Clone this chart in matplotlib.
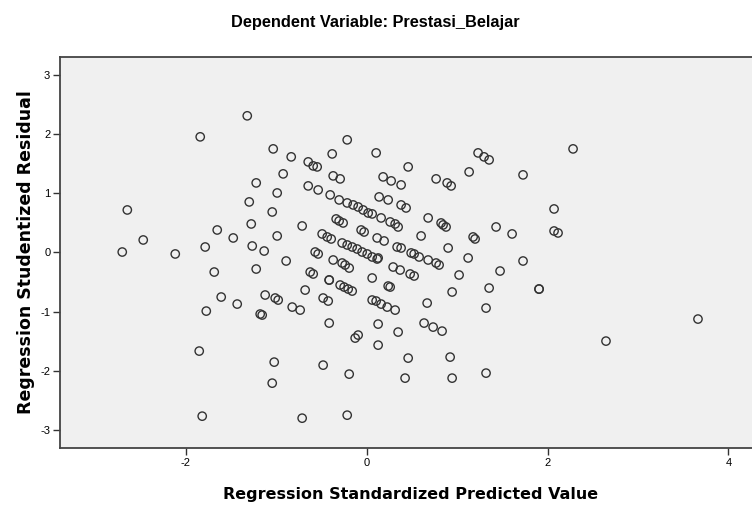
"""
SPSS-style residual scatterplot - Prestasi_Belajar
"""

import matplotlib
matplotlib.use('Agg')
import matplotlib.pyplot as plt

plt.rcParams['font.family'] = ['Liberation Sans', 'DejaVu Sans']
plt.rcParams['axes.unicode_minus'] = False

# Regression Standardized Predicted Value
pred = [
    -1.320, -1.840, -1.033, -0.834, -0.215, -0.381, -0.646, -0.591, -0.547, 0.105,
    -0.923, -0.370, -0.293, -1.221, -0.646, -0.536, -0.989, -0.403, -0.304, 2.282,
    1.232, 1.298, 1.354, 0.459, 0.182, 0.271, 0.381, 0.768, 0.890, 0.934,
    1.133, 1.729, 0.138, 0.238, -0.215, -0.149, -0.094, -0.039, 0.017, 0.061,
    -2.646, -1.298, -1.044, -0.337, -0.304, -0.260, -1.276, -0.713, -1.652, -0.061,
    -0.028, -1.475, -0.989, -2.470, -0.492, -0.436, -0.392, -0.271, -0.215, -0.160,
    -0.105, -0.050, 0.006, 0.061, 0.116, -1.785, -1.265, -1.133, -2.702, -2.116,
    -0.569, -0.536, 0.116, 0.381, 0.436, 2.072, 0.160, 0.260, 0.315, 0.348,
    0.680, 0.823, 0.845, 0.878, 1.431, 1.608, 2.072, 2.116, 1.177, 1.199,
    0.193, 0.602, 0.901, 0.337, 0.381, 0.492, 0.525, 0.580, 0.680, 0.768,
    0.801, 1.122, 1.729, 0.127, -0.370, -0.271, -0.238, -0.193, -0.890, -1.221,
    -1.685, -0.624, -0.591, -0.414, -0.414, 0.061, -0.293, -0.249, -0.204, -0.160,
    -0.680, -1.608, -1.431, -1.773, -1.122, -1.011, -0.978, -0.823, -0.735, -0.481,
    -0.425, -1.177, -1.155, -0.414, -0.127, -0.094, 0.061, 0.127, 0.127, -1.851,
    -1.022, -1.044, -0.481, -0.193, -1.818, -0.713, -0.215, 0.293, 0.370, 0.481,
    0.525, 1.022, 1.475, 1.906, 1.906, 1.354, 0.238, 0.260, 0.945, 0.105,
    0.160, 0.227, 0.315, 0.669, 1.320, 3.663, 0.348, 0.635, 0.735, 0.834,
    2.646, 0.459, 0.923, 0.425, 0.945, 1.320,
]

# Regression Studentized Residual
resid = [
    2.314, 1.958, 1.754, 1.619, 1.907, 1.669, 1.534, 1.466, 1.449, 1.686,
    1.331, 1.297, 1.246, 1.178, 1.127, 1.059, 1.008, 0.975, 0.890, 1.754,
    1.686, 1.619, 1.568, 1.449, 1.280, 1.212, 1.144, 1.246, 1.178, 1.127,
    1.364, 1.314, 0.941, 0.890, 0.839, 0.805, 0.771, 0.720, 0.669, 0.653,
    0.720, 0.856, 0.686, 0.568, 0.534, 0.500, 0.483, 0.449, 0.381, 0.381,
    0.347, 0.246, 0.280, 0.212, 0.314, 0.263, 0.229, 0.161, 0.127, 0.093,
    0.059, 0.008, -0.025, -0.076, -0.110, 0.093, 0.110, 0.025, 0.008, -0.025,
    0.008, -0.025, 0.246, 0.805, 0.754, 0.737, 0.585, 0.517, 0.483, 0.432,
    0.585, 0.500, 0.466, 0.432, 0.432, 0.314, 0.364, 0.331, 0.263, 0.229,
    0.195, 0.280, 0.076, 0.093, 0.076, -0.008, -0.025, -0.076, -0.127, -0.178,
    -0.212, -0.093, -0.144, -0.093, -0.127, -0.178, -0.212, -0.263, -0.144, -0.280,
    -0.331, -0.331, -0.364, -0.466, -0.466, -0.432, -0.551, -0.585, -0.619, -0.653,
    -0.636, -0.754, -0.873, -0.992, -0.720, -0.771, -0.805, -0.924, -0.975, -0.771,
    -0.822, -1.042, -1.059, -1.195, -1.449, -1.398, -0.805, -1.212, -1.568, -1.669,
    -1.856, -2.212, -1.907, -2.059, -2.771, -2.805, -2.754, -0.246, -0.297, -0.364,
    -0.398, -0.381, -0.314, -0.619, -0.619, -0.602, -0.568, -0.585, -0.669, -0.822,
    -0.873, -0.924, -0.975, -0.856, -0.941, -1.127, -1.347, -1.195, -1.263, -1.331,
    -1.500, -1.788, -1.771, -2.127, -2.127, -2.042,
]

x_ticks = [-2, 0, 2, 4]
y_ticks = [-3, -2, -1, 0, 1, 2, 3]

fig = plt.figure(figsize=(7.52, 5.12), dpi=100)
ax = fig.add_axes([0.0798, 0.125, 0.931, 0.7637])
ax.set_facecolor('#F0F0F0')

ax.scatter(pred, resid, s=36, facecolors='none', edgecolors='#333333', linewidths=1.0)

ax.set_xlim(-3.39, 4.35)
ax.set_ylim(-3.31, 3.31)
ax.set_xticks(x_ticks)
ax.set_yticks(y_ticks)
ax.tick_params(direction='out', length=5, width=1, color='#333333',
               labelsize=8, pad=2)

for side in ['left', 'bottom', 'top']:
    ax.spines[side].set_color('#444444')
    ax.spines[side].set_linewidth(1.3)
ax.spines['right'].set_visible(False)

ax.set_xlabel('Regression Standardized Predicted Value', fontsize=11.5,
              fontweight='bold', family='DejaVu Sans', labelpad=14)
ax.set_ylabel('Regression Studentized Residual', fontsize=12.5,
              fontweight='bold', family='DejaVu Sans', labelpad=4)

fig.text(375 / 752, 1 - 23 / 512, 'Dependent Variable: Prestasi_Belajar',
         ha='center', va='center', fontsize=11.8, fontweight='bold')

plt.savefig('out.png', dpi=100)
plt.close()
